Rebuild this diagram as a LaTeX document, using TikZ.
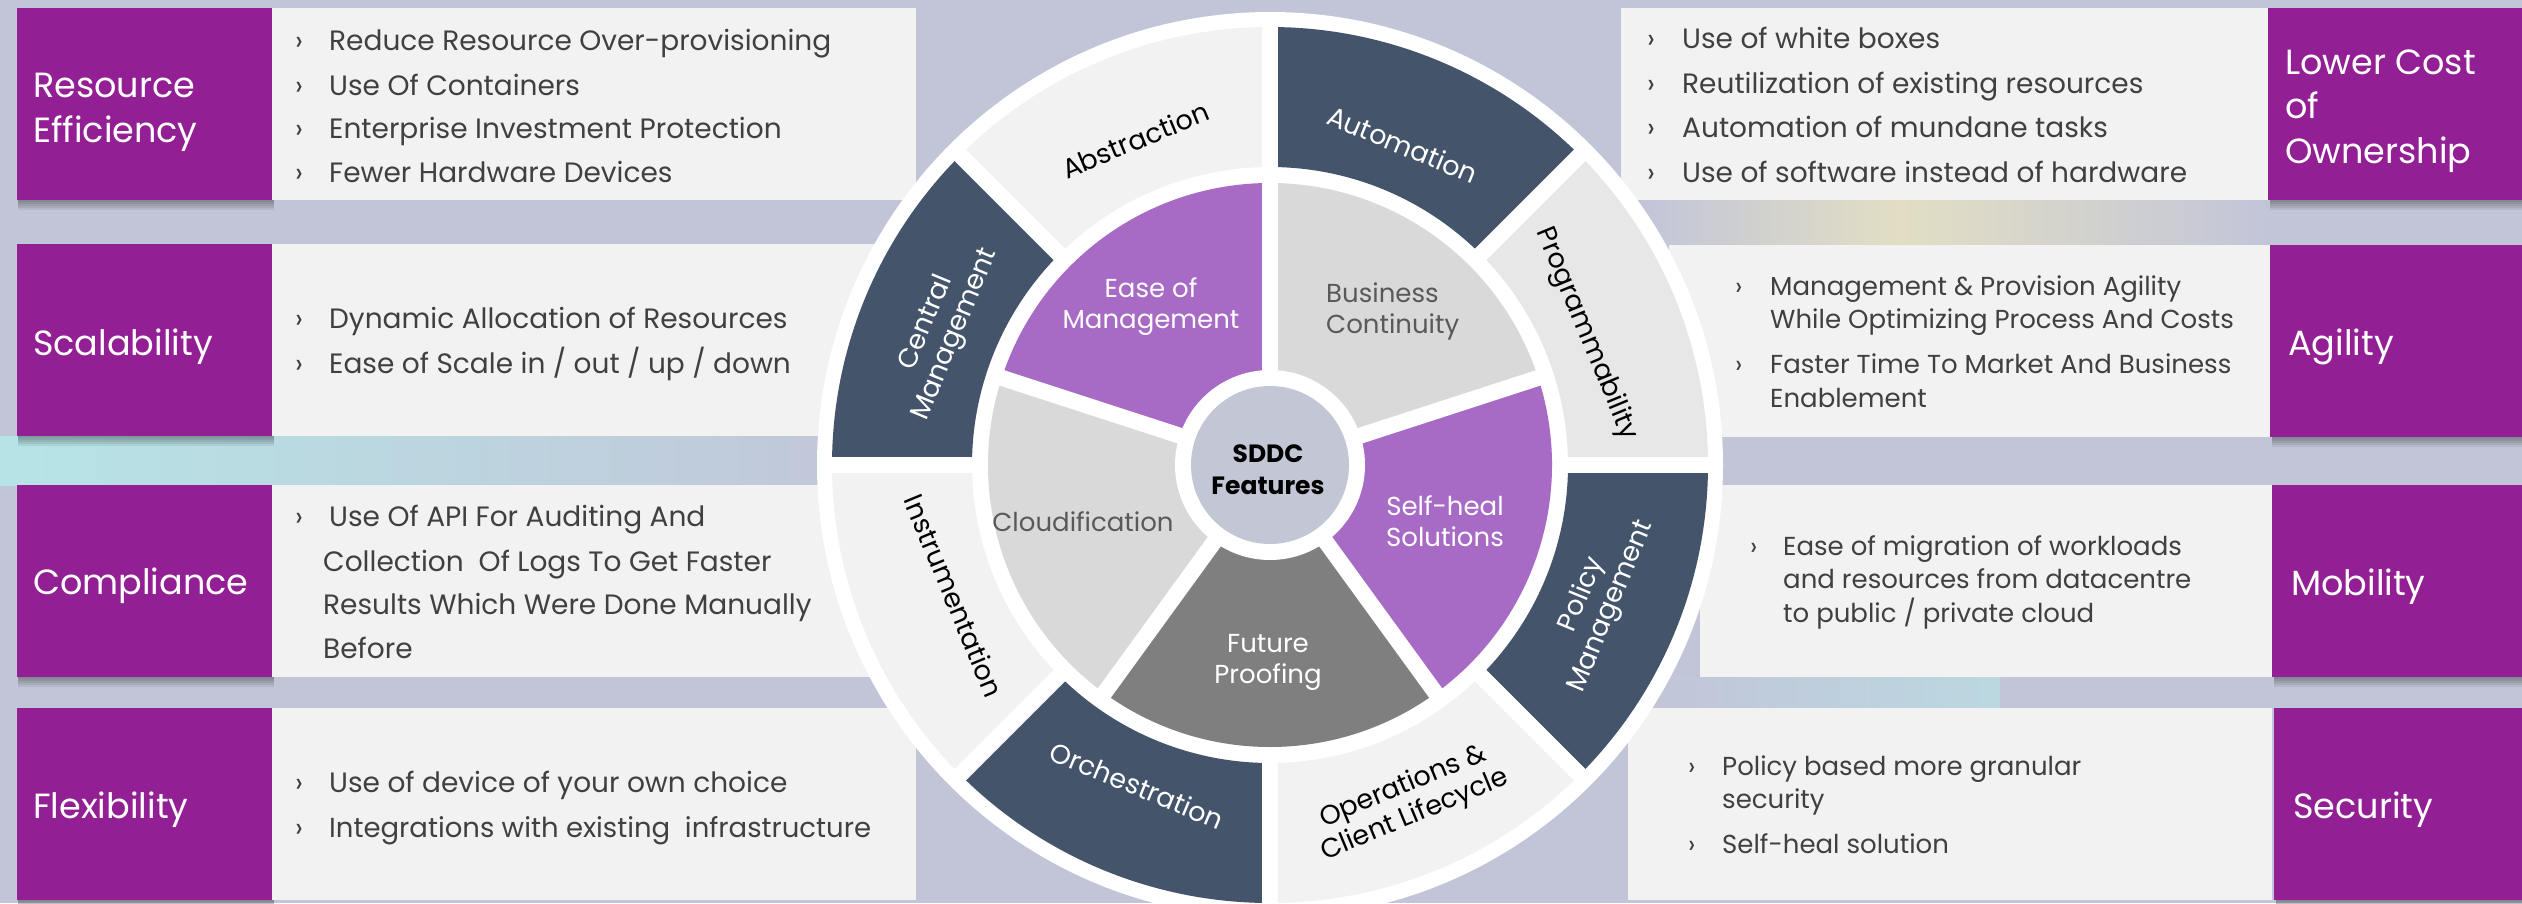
\documentclass[tikz,border=0pt]{standalone}
\usepackage{fontspec}
\setmainfont{Poppins}
\usetikzlibrary{calc}
\definecolor{bg}{RGB}{194,197,216}
\definecolor{boxpurple}{RGB}{146,31,148}
\definecolor{boxgray}{RGB}{242,242,242}
\definecolor{darkseg}{RGB}{68,84,106}
\definecolor{lightseg}{RGB}{242,242,242}
\definecolor{progseg}{RGB}{231,231,231}
\definecolor{innerpurple}{RGB}{167,107,197}
\definecolor{innergray}{RGB}{217,217,217}
\definecolor{futuregray}{RGB}{127,127,127}
\definecolor{centerfill}{RGB}{195,198,212}
\definecolor{bullettext}{RGB}{64,64,64}
\definecolor{innertext}{RGB}{89,89,89}
\definecolor{mint}{RGB}{182,228,230}
\definecolor{sand}{RGB}{226,222,196}
\tikzset{
  ttl/.style={text=white, font=\fontsize{35}{40}\selectfont, anchor=base west, inner sep=0pt},
  bul/.style={text=bullettext, font=\fontsize{28}{33}\selectfont, anchor=base west, inner sep=0pt},
  buls/.style={text=bullettext, font=\fontsize{26}{31}\selectfont, anchor=base west, inner sep=0pt},
  seglbl/.style={font=\fontsize{27}{31}\selectfont, align=center, inner sep=0pt},
  inlbl/.style={font=\fontsize{26}{30}\selectfont, anchor=base, inner sep=0pt},
  pshadow/.style={fill=black, opacity=0.07},
}
\begin{document}
\begin{tikzpicture}[x=1pt, y=-1pt]
\useasboundingbox (0,0) rectangle (2522,903);
\clip (0,0) rectangle (2522,903);
% background
\fill[bg] (0,0) rectangle (2522,903);
\shade[left color=mint, right color=bg] (0,436) rectangle (900,485);
\shade[left color=bg, right color=sand] (1640,200) rectangle (1900,245);
\shade[left color=sand, right color=bg] (1900,200) rectangle (2270,245);
\shade[left color=bg, right color=mint!60!bg] (1650,677) rectangle (2000,708);

% ---------- left boxes ----------
\foreach \ya/\yb in {8/200, 244/436, 485/677, 708/900}{
  \fill[boxgray] (272,\ya) rectangle (916,\yb);
  \foreach \k in {1,...,5}{\fill[pshadow] (18,\yb) rectangle (274,\yb+2*\k);}
  \fill[boxpurple] (17,\ya) rectangle (272,\yb);
}
% ---------- right boxes ----------
\fill[boxgray] (1621,8) rectangle (2270,200);
\fill[boxgray] (1669,245) rectangle (2270,437);
\fill[boxgray] (1700,485) rectangle (2272,677);
\fill[boxgray] (1628,708) rectangle (2272,900);
\foreach \ya/\yb/\xa in {8/200/2268, 245/437/2270, 485/677/2272, 708/900/2274}{
  \foreach \k in {1,...,5}{\fill[pshadow] (\xa+2,\yb) rectangle (2522,\yb+2*\k);}
  \fill[boxpurple] (\xa,\ya) rectangle (2522,\yb);
}

% ---------- circle ----------
\begin{scope}[shift={(1270pt,-465pt)}, x=1pt, y=1pt]
  \fill[white] (0,0) circle[radius=453];
  \foreach \a/\b/\c in {90/135/lightseg, 45/90/darkseg, 0/45/progseg, -45/0/darkseg,
                        -90/-45/lightseg, -135/-90/darkseg, -180/-135/lightseg, 135/180/darkseg}{
    \fill[\c] (\a:298) arc[start angle=\a, end angle=\b, radius=298]
      -- (\b:438) arc[start angle=\b, end angle=\a, radius=438] -- cycle;
  }
  \foreach \a/\b/\c in {90/162/innerpurple, 18/90/innergray, -54/18/innerpurple,
                        -126/-54/futuregray, 162/234/innergray}{
    \fill[\c] (0,0) -- (\a:282) arc[start angle=\a, end angle=\b, radius=282] -- cycle;
  }
  \foreach \a in {0,45,...,315}{\draw[white, line width=16pt] (\a:289) -- (\a:446);}
  \foreach \a in {18,90,162,234,306}{\draw[white, line width=16pt] (0,0) -- (\a:290);}
  \fill[white] (0,0) circle[radius=95];
  \fill[centerfill] (0,0) circle[radius=79];

  % outer labels
  \node[seglbl, rotate=22.5]  (abs)  at (112.5:352) {Abstraction};
  \node[seglbl, rotate=-22.5, text=white] (auto) at (67.5:347) {Automation};
  \node[seglbl, rotate=-67.5] (prog) at (22.5:342) {Programmability};
  \node[seglbl, rotate=67.5, text=white] (cman) at (157.5:356) {Central\\Management};
  \node[seglbl, rotate=-67.5] (instr) at (202.5:342) {Instrumentation};
  \node[seglbl, rotate=67.5, text=white] (pman) at (-22.5:354) {Policy\\Management};
  \node[seglbl, rotate=-22.5, text=white] (orch) at (-112.5:347) {Orchestration};
  \node[seglbl, rotate=22.5] (ops) at (-67.5:364) {Operations \&\\Client Lifecycle};
\end{scope}

% inner labels
\node[inlbl, text=white] (eom1) at (1151,297) {Ease of};
\node[inlbl, text=white] (eom2) at (1151,328) {Management};
\node[inlbl, text=innertext, anchor=base west] (bc1) at (1326,302) {Business};
\node[inlbl, text=innertext, anchor=base west] (bc2) at (1326,333) {Continuity};
\node[inlbl, text=innertext] (cld) at (1083,531) {Cloudification};
\node[inlbl, text=white] (sh1) at (1445,515) {Self-heal};
\node[inlbl, text=white] (sh2) at (1445,546) {Solutions};
\node[inlbl, text=white] (fp1) at (1268,652) {Future};
\node[inlbl, text=white] (fp2) at (1268,683) {Proofing};
\node[inlbl, font=\bfseries\fontsize{25}{29}\selectfont] (sd1) at (1268,462) {SDDC};
\node[inlbl, font=\bfseries\fontsize{25}{29}\selectfont] (sd2) at (1268,494) {Features};

% ---------- left texts ----------
\node[ttl] (re1) at (33,97) {Resource};
\node[ttl] (re2) at (33,142) {Efficiency};
\foreach \y/\t [count=\i] in {50/{Reduce Resource Over-provisioning}, 95/{Use Of Containers},
    138/{Enterprise Investment Protection}, 182/{Fewer Hardware Devices}}{
  \node[bul] (rec\i) at (295,\y) {›};
  \node[bul] (ret\i) at (329,\y) {\t};
}
\node[ttl] (sc) at (33,355) {Scalability};
\node[bul] (scc1) at (295,328) {›};
\node[bul] (sct1) at (329,328) {Dynamic Allocation of Resources};
\node[bul] (scc2) at (295,373) {›};
\node[bul] (sct2) at (329,373) {Ease of Scale in / out / up / down};
\node[ttl] (co) at (33,594) {Compliance};
\node[bul] (coc1) at (295,526) {›};
\node[bul] (cot1) at (329,526) {Use Of API For Auditing And};
\node[bul] (cot2) at (323,571) {Collection\ \ Of Logs To Get Faster};
\node[bul] (cot3) at (323,614) {Results Which Were Done Manually};
\node[bul] (cot4) at (323,658) {Before};
\node[ttl] (fl) at (33,818) {Flexibility};
\node[bul] (flc1) at (295,792) {›};
\node[bul] (flt1) at (329,792) {Use of device of your own choice};
\node[bul] (flc2) at (295,837) {›};
\node[bul, font=\fontsize{27.5}{33}\selectfont] (flt2) at (329,837) {Integrations with existing\ \ infrastructure};

% ---------- right texts ----------
\node[ttl] (lc1) at (2285,74) {Lower Cost};
\node[ttl] (lc2) at (2285,118) {of};
\node[ttl] (lc3) at (2285,163) {Ownership};
\foreach \y/\t [count=\i] in {48/{Use of white boxes}, 93/{Reutilization of existing resources},
    137/{Automation of mundane tasks}, 182/{Use of software instead of hardware}}{
  \node[bul] (lcc\i) at (1647,\y) {›};
  \node[bul] (lct\i) at (1682,\y) {\t};
}
\node[ttl] (ag) at (2288,355) {Agility};
\node[buls] (agc1) at (1735,295) {›};
\node[buls] (agt1) at (1770,295) {Management \& Provision Agility};
\node[buls] (agt2) at (1770,328) {While Optimizing Process And Costs};
\node[buls] (agc2) at (1735,373) {›};
\node[buls] (agt3) at (1770,373) {Faster Time To Market And Business};
\node[buls] (agt4) at (1770,407) {Enablement};
\node[ttl] (mo) at (2291,595) {Mobility};
\node[buls] (moc1) at (1750,555) {›};
\node[buls] (mot1) at (1783,555) {Ease of migration of workloads};
\node[buls] (mot2) at (1783,588) {and resources from datacentre};
\node[buls] (mot3) at (1783,622) {to public / private cloud};
\node[ttl] (se) at (2293,818) {Security};
\node[buls] (sec1) at (1688,775) {›};
\node[buls] (set1) at (1722,775) {Policy based more granular};
\node[buls] (set2) at (1722,808) {security};
\node[buls] (sec2) at (1688,853) {›};
\node[buls] (set3) at (1722,853) {Self-heal solution};
\end{tikzpicture}
\end{document}
